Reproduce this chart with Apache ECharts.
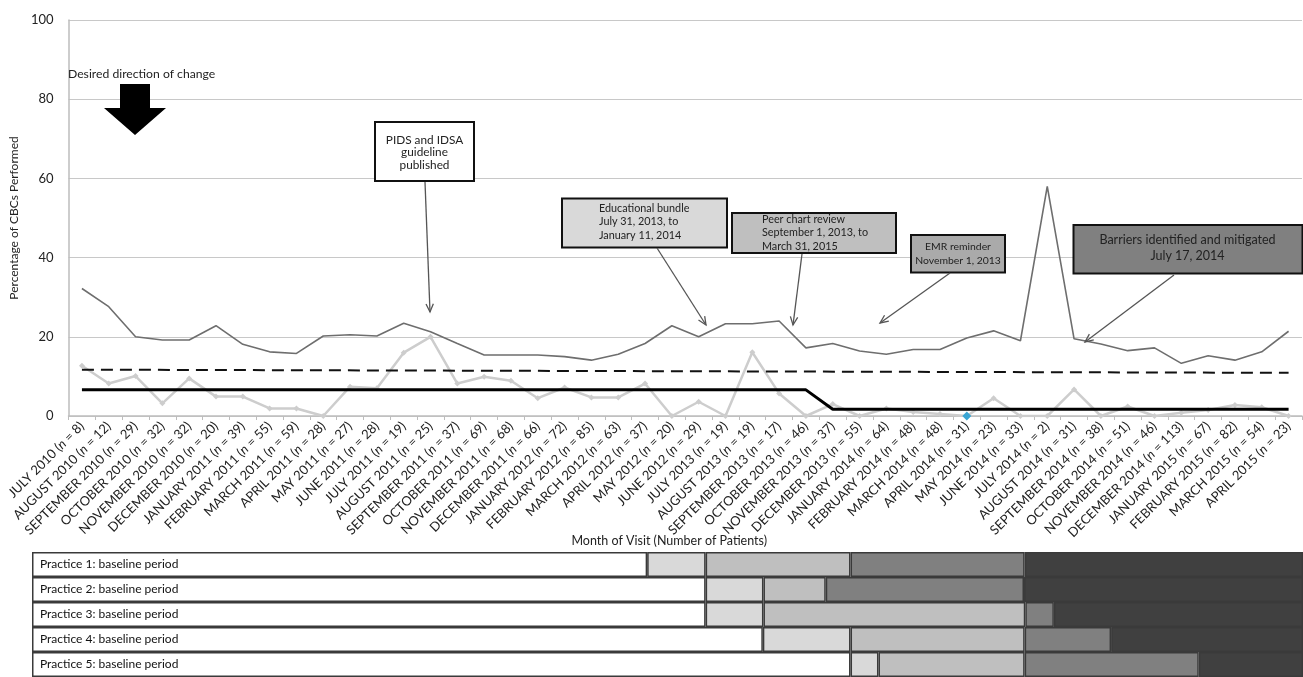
<!DOCTYPE html>
<html>
<head>
<meta charset="utf-8">
<script src="https://cdn.jsdelivr.net/npm/echarts@6.0.0/dist/echarts.min.js"></script>
<style>
  html, body { margin: 0; padding: 0; background: #fff; }
  #main { width: 1303px; height: 677px; }
</style>
</head>
<body>
<div id="main"></div>
<script>
var FONT = "Lato, 'Liberation Sans', sans-serif";

// months on the x axis and the number of patients for each
var months = ["JULY 2010", "AUGUST 2010", "SEPTEMBER 2010", "OCTOBER 2010", "NOVEMBER 2010", "DECEMBER 2010",
  "JANUARY 2011", "FEBRUARY 2011", "MARCH 2011", "APRIL 2011", "MAY 2011", "JUNE 2011", "JULY 2011",
  "AUGUST 2011", "SEPTEMBER 2011", "OCTOBER 2011", "NOVEMBER 2011", "DECEMBER 2011", "JANUARY 2012",
  "FEBRUARY 2012", "MARCH 2012", "APRIL 2012", "MAY 2012", "JUNE 2012", "JULY 2013", "AUGUST 2013",
  "SEPTEMBER 2013", "OCTOBER 2013", "NOVEMBER 2013", "DECEMBER 2013", "JANUARY 2014", "FEBRUARY 2014",
  "MARCH 2014", "APRIL 2014", "MAY 2014", "JUNE 2014", "JULY 2014", "AUGUST 2014", "SEPTEMBER 2014",
  "OCTOBER 2014", "NOVEMBER 2014", "DECEMBER 2014", "JANUARY 2015", "FEBRUARY 2015", "MARCH 2015", "APRIL 2015"];
var patients = [8, 12, 29, 32, 32, 20, 39, 55, 59, 28, 27, 28, 19, 25, 37, 69, 68, 66, 72, 85, 63, 37, 20, 29,
  19, 19, 17, 46, 37, 55, 64, 48, 48, 31, 23, 33, 2, 31, 38, 51, 46, 113, 67, 82, 54, 23];

// dark gray line
var darkLine = [32.2, 27.6, 20.0, 19.2, 19.2, 22.8, 18.1, 16.2, 15.8, 20.2, 20.5, 20.2, 23.4, 21.3, 18.3, 15.4,
  15.4, 15.4, 15.0, 14.1, 15.6, 18.3, 22.8, 20.0, 23.3, 23.3, 24.0, 17.2, 18.3, 16.4, 15.6, 16.8, 16.8, 19.7,
  21.5, 19.0, 58.0, 19.5, 18.2, 16.5, 17.2, 13.3, 15.2, 14.1, 16.2, 21.4];
// light gray line with markers
var lightLine = [12.7, 8.2, 10.1, 3.2, 9.5, 4.9, 4.9, 1.9, 1.9, 0, 7.4, 7.0, 16.0, 20.0, 8.2, 9.9, 8.9, 4.5,
  7.2, 4.7, 4.7, 8.2, 0, 3.6, 0, 16.1, 5.7, 0, 3.0, 0, 1.9, 1.0, 0.5, 0, 4.5, 0, 0, 6.7, 0, 2.4, 0, 0.8, 1.5,
  2.8, 2.2, 0];
var highlightIndex = 33;
// black centre line
var centerLine = [6.6, 6.6, 6.6, 6.6, 6.6, 6.6, 6.6, 6.6, 6.6, 6.6, 6.6, 6.6, 6.6, 6.6, 6.6, 6.6, 6.6, 6.6,
  6.6, 6.6, 6.6, 6.6, 6.6, 6.6, 6.6, 6.6, 6.6, 6.6, 1.7, 1.7, 1.7, 1.7, 1.7, 1.7, 1.7, 1.7, 1.7, 1.7, 1.7,
  1.7, 1.7, 1.7, 1.7, 1.7, 1.7, 1.7];
// dashed line, first and last month
var dashedEnds = [11.7, 10.9];

// bottom table: width of each phase (% of table width) per practice
var practices = ["Practice 1", "Practice 2", "Practice 3", "Practice 4", "Practice 5"];
var baselineW = [48.4, 53.0, 53.0, 57.5, 64.4];
var bundleW = [4.6, 4.55, 4.55, 6.9, 2.2];
var peerW = [11.4, 4.9, 20.6, 13.7, 11.5];
var emrW = [13.7, 15.6, 2.25, 6.8, 13.7];
var barrierW = [21.9, 21.95, 19.6, 15.1, 8.2];

var myChart = echarts.init(document.getElementById("main"));

function arrow(x1, y1, x2, y2) {
  var a = Math.atan2(y2 - y1, x2 - x1), len = 9, sp = 0.42;
  return [
    { type: "line", z: 100, shape: { x1: x1, y1: y1, x2: x2, y2: y2 }, style: { stroke: "#555", lineWidth: 1.3 } },
    { type: "polyline", z: 100, shape: { points: [
        [x2 - len * Math.cos(a - sp), y2 - len * Math.sin(a - sp)], [x2, y2],
        [x2 - len * Math.cos(a + sp), y2 - len * Math.sin(a + sp)]] },
      style: { stroke: "#555", lineWidth: 1.3, fill: null } }
  ];
}

function box(x, y, w, h, fill, text, tx, ty, align, size, lh) {
  return [
    { type: "rect", z: 100, shape: { x: x, y: y, width: w, height: h }, style: { fill: fill, stroke: "#111", lineWidth: 2 } },
    { type: "text", z: 101, x: tx, y: ty, style: { text: text, fill: "#222", fontSize: size, fontFamily: FONT,
        align: align, verticalAlign: "middle", lineHeight: lh } }
  ];
}

var graphics = [].concat(
  [{ type: "text", z: 100, x: 68, y: 74, style: { text: "Desired direction of change", fill: "#222", fontSize: 12.2,
      fontFamily: FONT, verticalAlign: "middle" } },
   { type: "polygon", z: 100, shape: { points: [[120, 84], [150, 84], [150, 108], [166, 108], [135, 135], [104, 108], [120, 108]] },
     style: { fill: "#000" } }],
  box(375, 122, 99, 59, "#fff", "PIDS and IDSA\nguideline\npublished", 424.5, 152.5, "center", 11.8, 12.8),
  arrow(425, 182, 430, 312),
  box(562, 198.5, 165, 49, "#d9d9d9", "Educational bundle\nJuly 31, 2013, to\nJanuary 11, 2014", 599, 222, "left", 10.8, 13.8),
  arrow(657, 248, 706, 325),
  box(732, 213, 164, 40, "#bfbfbf", "Peer chart review\nSeptember 1, 2013, to\nMarch 31, 2015", 762, 233, "left", 10.8, 13.8),
  arrow(802, 254, 793, 325),
  box(911, 235, 94, 37.5, "#aaaaaa", "EMR reminder\nNovember 1, 2013", 958, 253.5, "center", 10.4, 13.4),
  arrow(950, 273, 880, 323),
  box(1073.5, 225, 229, 48.5, "#808080", "Barriers identified and mitigated\nJuly 17, 2014", 1187.5, 248, "center", 12.5, 16),
  arrow(1174, 275, 1085, 342)
);

var phaseColors = ["#ffffff", "#d9d9d9", "#bfbfbf", "#808080", "#404040"];
var tableSeries = [baselineW, bundleW, peerW, emrW, barrierW].map(function (arr, k) {
  return {
    type: "bar",
    stack: "phase",
    xAxisIndex: 1,
    yAxisIndex: 1,
    data: arr,
    barCategoryGap: 0,
    silent: true,
    itemStyle: { color: phaseColors[k], borderColor: "#3a3a3a", borderWidth: 1.5 },
    label: k === 0 ? { show: true, position: "insideLeft", distance: 8, formatter: "{b}: baseline period",
      color: "#111", fontSize: 12, fontFamily: FONT } : { show: false }
  };
});

var lightData = lightLine.map(function (v, i) {
  if (i === highlightIndex) {
    return { value: v, symbolSize: 9, itemStyle: { color: "#3aa6d4" } };
  }
  return v;
});

var option = {
  animation: false,
  backgroundColor: "#fff",
  textStyle: { fontFamily: FONT },
  graphic: graphics,
  grid: [
    { left: 62, right: 1, top: 20, height: 396 },
    { left: 32, right: 0, top: 552, height: 129 }
  ],
  xAxis: [
    {
      type: "category",
      data: months,
      gridIndex: 0,
      axisLine: { lineStyle: { color: "#bdbdbd", width: 1.5 } },
      axisTick: { show: true, length: 4, lineStyle: { color: "#bdbdbd" } },
      axisLabel: {
        interval: 0,
        rotate: 45,
        margin: 8,
        fontSize: 13,
        color: "#222",
        fontFamily: FONT,
        formatter: function (v, i) {
          return v + " ({i|n} = " + patients[i] + ")";
        },
        rich: { i: { fontStyle: "italic", fontSize: 13, color: "#222", fontFamily: FONT } }
      },
      name: "Month of Visit (Number of Patients)",
      nameLocation: "middle",
      nameGap: 118,
      nameMoveOverlap: false,
      nameTextStyle: { fontSize: 12.5, color: "#222", fontFamily: FONT, padding: [0, 32, 0, 0] }
    },
    { type: "value", gridIndex: 1, min: 0, max: 100, show: false }
  ],
  yAxis: [
    {
      type: "value",
      gridIndex: 0,
      min: 0,
      max: 100,
      interval: 20,
      axisLine: { show: true, lineStyle: { color: "#bdbdbd", width: 1.5 } },
      axisTick: { show: false },
      splitLine: { lineStyle: { color: "#c8c8c8", width: 1.2 } },
      axisLabel: { fontSize: 13, color: "#222", margin: 15, fontFamily: FONT },
      name: "Percentage of CBCs Performed",
      nameLocation: "middle",
      nameGap: 41,
      nameTextStyle: { fontSize: 12, color: "#222", fontFamily: FONT }
    },
    { type: "category", gridIndex: 1, data: practices, inverse: true, show: false }
  ],
  series: [
    {
      name: "dark",
      type: "line",
      data: darkLine,
      symbol: "none",
      lineStyle: { color: "#6e6e6e", width: 1.6 },
      z: 4
    },
    {
      name: "light",
      type: "line",
      data: lightData,
      symbol: "diamond",
      symbolSize: 6,
      itemStyle: { color: "#cdcdcd" },
      lineStyle: { color: "#cdcdcd", width: 2.5 },
      z: 3
    },
    {
      name: "centre",
      type: "line",
      data: centerLine,
      symbol: "none",
      lineStyle: { color: "#000", width: 3 },
      z: 5
    },
    {
      name: "dashed",
      type: "line",
      data: [[0, dashedEnds[0]], [months.length - 1, dashedEnds[1]]],
      symbol: "none",
      lineStyle: { color: "#111", width: 2, type: [12, 7] },
      z: 5
    }
  ].concat(tableSeries)
};

option && myChart.setOption(option);
</script>
</body>
</html>
